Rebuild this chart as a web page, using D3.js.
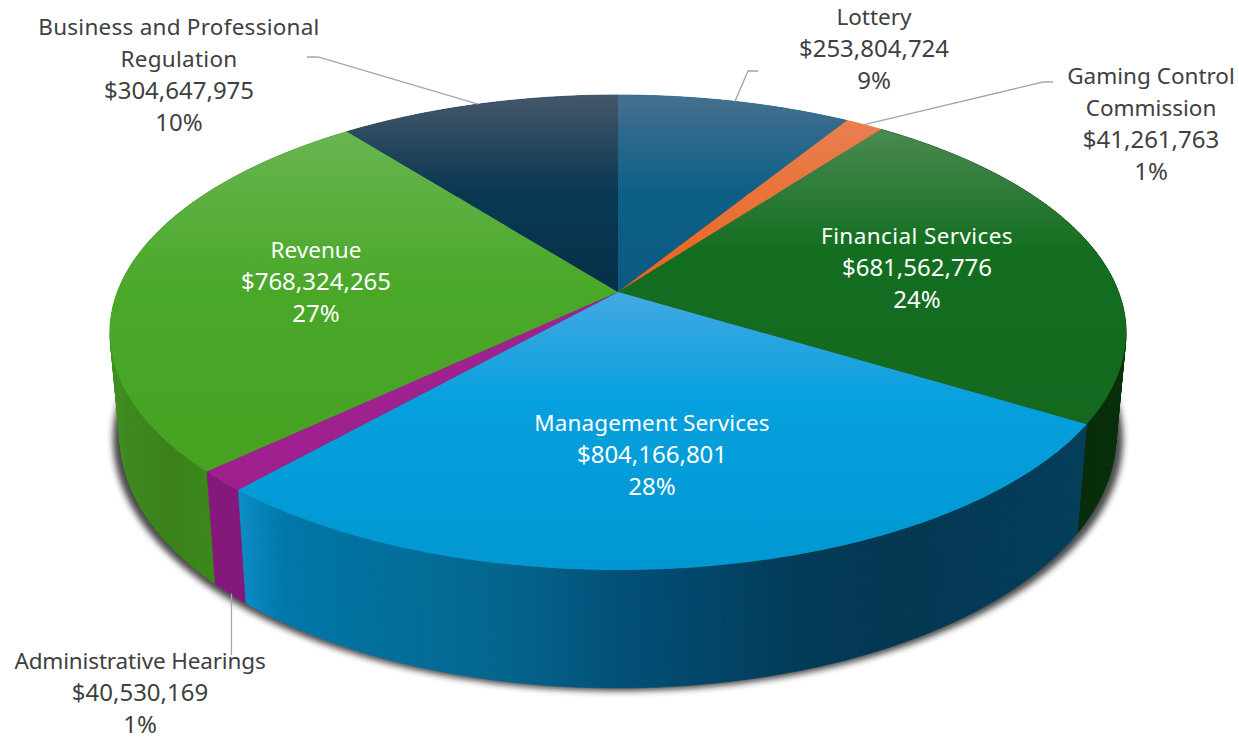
<!DOCTYPE html>
<html><head><meta charset="utf-8">
<script src="https://cdn.jsdelivr.net/npm/d3@7/dist/d3.min.js"></script>
<style>html,body{margin:0;padding:0;background:#fff;overflow:hidden}</style>
</head><body><svg id="c" width="1239" height="740"></svg>
<script>
const categories = ["Lottery","Gaming Control Commission","Financial Services","Management Services","Administrative Hearings","Revenue","Business and Professional Regulation"];
const values = [253804724,41261763,681562776,804166801,40530169,768324265,304647975];
const percents = ["9%","1%","24%","28%","1%","27%","10%"];
const labelLines = [["Lottery"],["Gaming Control","Commission"],["Financial Services"],["Management Services"],["Administrative Hearings"],["Revenue"],["Business and Professional","Regulation"]];

const fontFamily = "'Noto Sans', sans-serif", fontSize = 22.5, numSize = 24, lineGap = 32;
const labelPos = [[874,25,"#404040"],[1151,84,"#404040"],[917,244,"#fff"],[652,431,"#fff"],[140,669,"#404040"],[316,258,"#fff"],[179,35,"#404040"]];
const nameSpacing = [0,0,0.4,0.1,-0.15,0,0.25];
const topStops = [
 [[95,"#45708f"],[190,"#0e5f88"],[292,"#0a5a82"]],
 [[120,"#e97f50"],[292,"#e9641c"]],
 [[125,"#4c8b52"],[250,"#136e20"],[420,"#14691f"]],
 [[292,"#43a9e3"],[400,"#07a0de"],[570,"#0097d2"]],
 [[380,"#9f2290"],[490,"#9f1f8e"]],
 [[130,"#68b551"],[290,"#4aa829"],[470,"#48a222"]],
 [[95,"#45576a"],[190,"#0a3852"],[292,"#06304a"]]
];
const wallStops = [
 [[0,"#0a5a82"],[1239,"#0a5a82"]],
 [[0,"#e9641c"],[1239,"#e9641c"]],
 [[1076,"#062b08"],[1126,"#062f0a"]],
 [[238,"#0b8fc8"],[285,"#0078a9"],[500,"#04668e"],[620,"#025079"],[800,"#023b58"],[900,"#033752"],[1087,"#033f5c"]],
 [[205,"#85187a"],[246,"#85187a"]],
 [[110,"#3f901f"],[170,"#3a8219"],[216,"#3c8a1b"]],
 [[0,"#06304a"],[1239,"#06304a"]]
];

// perspective projection of the unit disc
const cx=618, cy=292, persp=0.1705, R=500.6, H=230.6;
function topPt(a){ const u=Math.sin(a), v=Math.cos(a), w=1+persp*v; return [cx+R*u/w, cy-H*v/w]; }
function botPt(a,sx=0.98){ const [x,y]=topPt(a); return [cx+(x-cx)*sx, y+109+(y-424)*0.0616]; }
function samples(a0,a1){ const n=Math.max(2,Math.ceil((a1-a0)/0.012)); return d3.range(n+1).map(i=>a0+(a1-a0)*i/n); }

const svg=d3.select("#c"), defs=svg.append("defs");
const line=d3.line();
const arcs=d3.pie().sort(null).startAngle(0).endAngle(2*Math.PI)(values);

function grad(id,stops,horizontal){
  const g=defs.append("linearGradient").attr("id",id).attr("gradientUnits","userSpaceOnUse");
  const d0=stops[0][0], d1=stops[stops.length-1][0];
  if(horizontal) g.attr("x1",d0).attr("x2",d1).attr("y1",0).attr("y2",0);
  else g.attr("x1",0).attr("x2",0).attr("y1",d0).attr("y2",d1);
  stops.forEach(s=>g.append("stop").attr("offset",(s[0]-d0)/(d1-d0)).attr("stop-color",s[1]));
}
arcs.forEach((d,i)=>{ grad("t"+i,topStops[i],false); grad("w"+i,wallStops[i],true); });

defs.append("filter").attr("id","sh").attr("x","-5%").attr("y","-5%").attr("width","110%").attr("height","110%")
  .append("feGaussianBlur").attr("stdDeviation",3);

// shadow of the lower disc
const all=samples(0,2*Math.PI);
svg.append("path").attr("d",line(all.map(a=>botPt(a,0.994)))+"Z").attr("fill","#2a2a2a").attr("opacity",0.85)
  .attr("filter","url(#sh)").attr("transform","translate(0,3)");

// walls, drawn as swept strips so the silhouette between the discs is filled
const walls=svg.append("g");
arcs.forEach((d,i)=>{
  const s=samples(d.startAngle,d.endAngle);
  const pairs=d3.pairs(s);
  walls.append("g").selectAll("path").data(pairs).join("path")
    .attr("d",([a,b])=>line([topPt(a),topPt(b),botPt(b),botPt(a)])+"Z")
    .attr("fill",`url(#w${i})`).attr("stroke",`url(#w${i})`).attr("stroke-width",0.6);
});
// top face
const faces=svg.append("g");
arcs.forEach((d,i)=>{
  const s=samples(d.startAngle,d.endAngle);
  faces.append("path").attr("d",line([[cx,cy]].concat(s.map(topPt)))+"Z").attr("fill",`url(#t${i})`);
});

// leader lines
const leaders=svg.append("g").attr("fill","none").attr("stroke","#a6a6a6").attr("stroke-width",1.3);
const leaderElbows={0:[[748,71],[758,71]],1:[[1043,82],[1053,82]],6:[[318,57],[307,57]]};
arcs.forEach((d,i)=>{
  const m=(d.startAngle+d.endAngle)/2;
  if(leaderElbows[i]) leaders.append("path").attr("d",line([topPt(m)].concat(leaderElbows[i])));
});
{ const m=(arcs[4].startAngle+arcs[4].endAngle)/2, p=botPt(m);
  leaders.append("path").attr("d",line([[p[0]+2,p[1]],[p[0]+2,655]])); }

// labels
const fmt=d3.format("$,");
const lab=svg.append("g").attr("font-family",fontFamily).attr("font-size",fontSize).attr("text-anchor","middle");
arcs.forEach((d,i)=>{
  const [x,y,col]=labelPos[i];
  const t=lab.append("text").attr("fill",col);
  const names=labelLines[i], n=names.length;
  names.forEach((s,k)=>t.append("tspan").attr("x",x).attr("y",y+k*lineGap).attr("letter-spacing",nameSpacing[i]).text(s));
  [fmt(values[i]),percents[i]].forEach((s,k)=>t.append("tspan").attr("x",x).attr("y",y+(n+k)*lineGap).attr("font-size",numSize).text(s));
});
</script></body></html>
